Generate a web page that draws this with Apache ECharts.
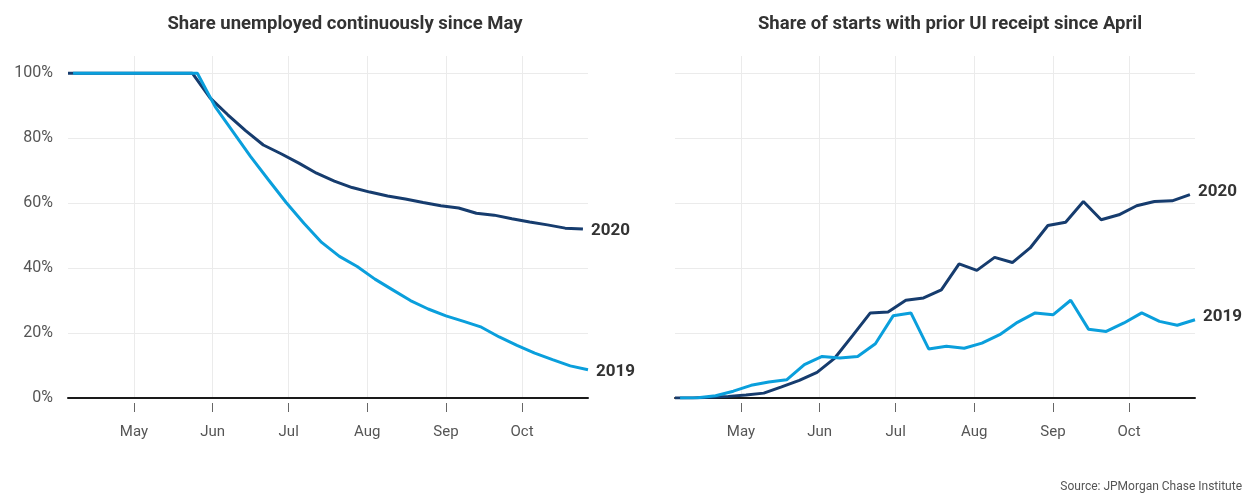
<!DOCTYPE html>
<html><head><meta charset="utf-8">
<script src="https://cdn.jsdelivr.net/npm/echarts@6/dist/echarts.min.js"></script>
<style>html,body{margin:0;padding:0;background:#fff}#c{width:1250px;height:493px}</style>
</head><body><div id="c"></div>
<script>
const leftTitle = 'Share unemployed continuously since May';
const rightTitle = 'Share of starts with prior UI receipt since April';
const sourceText = 'Source: JPMorgan Chase Institute';
const monthLabels = ['May', 'Jun', 'Jul', 'Aug', 'Sep', 'Oct'];
const monthStartDays = [0, 31, 61, 92, 123, 153]; // days since May 1
const yTicks = [0, 20, 40, 60, 80, 100];

const weeks2020 = ['2020-04-05','2020-04-12','2020-04-19','2020-04-26','2020-05-03','2020-05-10','2020-05-17','2020-05-24','2020-05-31',
  '2020-06-07','2020-06-14','2020-06-21','2020-06-28','2020-07-05','2020-07-12','2020-07-19','2020-07-26','2020-08-02','2020-08-09',
  '2020-08-16','2020-08-23','2020-08-30','2020-09-06','2020-09-13','2020-09-20','2020-09-27','2020-10-04','2020-10-11','2020-10-18','2020-10-25'];
const weeks2019 = ['2019-04-07','2019-04-14','2019-04-21','2019-04-28','2019-05-05','2019-05-12','2019-05-19','2019-05-26','2019-06-02',
  '2019-06-09','2019-06-16','2019-06-23','2019-06-30','2019-07-07','2019-07-14','2019-07-21','2019-07-28','2019-08-04','2019-08-11',
  '2019-08-18','2019-08-25','2019-09-01','2019-09-08','2019-09-15','2019-09-22','2019-09-29','2019-10-06','2019-10-13','2019-10-20','2019-10-27'];

const unemployed2020 = [100,100,100,100,100,100,100,100,92.4,87.2,82.3,77.9,75.2,72.3,69.2,66.8,64.8,63.4,62.2,61.3,60.2,59.2,58.5,56.9,56.3,55.2,54.2,53.3,52.3,52.0];
const unemployed2019 = [100,100,100,100,100,100,100,100,89.7,82.0,74.3,67.2,60.2,53.8,47.9,43.6,40.5,36.6,33.3,30.0,27.4,25.3,23.6,21.8,18.8,16.2,13.8,11.8,9.9,8.7];
const priorUI2020 = [0,0,0.2,0.5,0.9,1.5,3.4,5.4,7.9,12.3,19.2,26.2,26.5,30.1,30.8,33.3,41.3,39.3,43.3,41.7,46.2,53.1,54.1,60.5,54.9,56.4,59.2,60.5,60.7,62.6];
const priorUI2019 = [0,0.1,0.7,2.1,3.9,4.9,5.6,10.3,12.8,12.3,12.8,16.7,25.3,26.2,15.1,15.9,15.3,16.9,19.5,23.3,26.2,25.6,30.1,21.2,20.5,23.1,26.2,23.6,22.4,24.1];

function dayOf(s) {
  const p = s.split('-').map(Number);
  return (Date.UTC(p[0], p[1] - 1, p[2]) - Date.UTC(p[0], 4, 1)) / 86400000;
}
function pairs(weeks, vals) { return weeks.map((w, i) => [dayOf(w), vals[i]]); }

const C2020 = '#163c6e', C2019 = '#0a9fdc';
const labelFont = 'Roboto, "Noto Sans", sans-serif';
const titleFont = 'Roboto, "Noto Sans", sans-serif';

function xMain(g) {
  return {
    gridIndex: g, type: 'value', min: -26, max: 179,
    axisLine: { show: true, lineStyle: { color: '#1a1a1a', width: 2 } },
    axisTick: { show: false, customValues: monthStartDays },
    axisLabel: { show: false, customValues: monthStartDays },
    splitLine: { show: true, lineStyle: { color: '#ebebeb', width: 1 } }
  };
}
function xTicks(g) {
  return {
    gridIndex: g, type: 'value', min: -26, max: 179, position: 'bottom', offset: 5,
    axisLine: { show: false },
    axisTick: { show: true, length: 9, customValues: monthStartDays, lineStyle: { color: '#666', width: 1 } },
    axisLabel: { show: true, customValues: monthStartDays, margin: 22, fontSize: 15, color: '#555', fontFamily: labelFont,
      formatter: v => monthLabels[monthStartDays.indexOf(v)] },
    splitLine: { show: false }
  };
}
function yAx(g, showLabel) {
  return {
    gridIndex: g, type: 'value', min: 0, max: 105.3,
    axisLine: { show: false },
    axisTick: { show: false, customValues: yTicks },
    axisLabel: { show: showLabel, customValues: yTicks, formatter: '{value}%', margin: 15, fontSize: 16, color: '#555', fontFamily: labelFont },
    splitLine: { show: true, lineStyle: { color: '#ebebeb', width: 1 } }
  };
}
function line(name, data, color, xi, yi, offY) {
  return {
    name, type: 'line', data, xAxisIndex: xi, yAxisIndex: yi,
    showSymbol: false, symbol: 'none',
    lineStyle: { color, width: 3 }, itemStyle: { color },
    endLabel: { show: true, formatter: name, distance: 8, offset: [0, offY],
      fontSize: 17, fontWeight: 'bold', color: '#333', fontFamily: titleFont }
  };
}

const chart = echarts.init(document.getElementById('c'), null, { renderer: 'canvas' });
chart.setOption({
  animation: false,
  grid: [
    { left: 68, right: 662, top: 56, bottom: 95 },
    { left: 675, right: 55, top: 56, bottom: 95 }
  ],
  xAxis: [xMain(0), xTicks(0), xMain(1), xTicks(1)],
  yAxis: [yAx(0, true), yAx(1, false)],
  graphic: [
    { type: 'text', x: 345, y: 24, style: { text: leftTitle, align: 'center', verticalAlign: 'middle',
      fontSize: 18.5, fontWeight: 'bold', fill: '#333', fontFamily: titleFont } },
    { type: 'text', x: 950, y: 24, style: { text: rightTitle, align: 'center', verticalAlign: 'middle',
      fontSize: 18.5, fontWeight: 'bold', fill: '#333', fontFamily: titleFont } },
    { type: 'text', x: 1242, y: 487, style: { text: sourceText, align: 'right', verticalAlign: 'middle',
      fontSize: 12, fill: '#555', fontFamily: labelFont } }
  ],
  series: [
    line('2020', pairs(weeks2020, unemployed2020), C2020, 0, 0, 2),
    line('2019', pairs(weeks2019, unemployed2019), C2019, 0, 0, 2),
    line('2020', pairs(weeks2020, priorUI2020), C2020, 2, 1, -3),
    line('2019', pairs(weeks2019, priorUI2019), C2019, 2, 1, -3)
  ]
});
</script></body></html>
